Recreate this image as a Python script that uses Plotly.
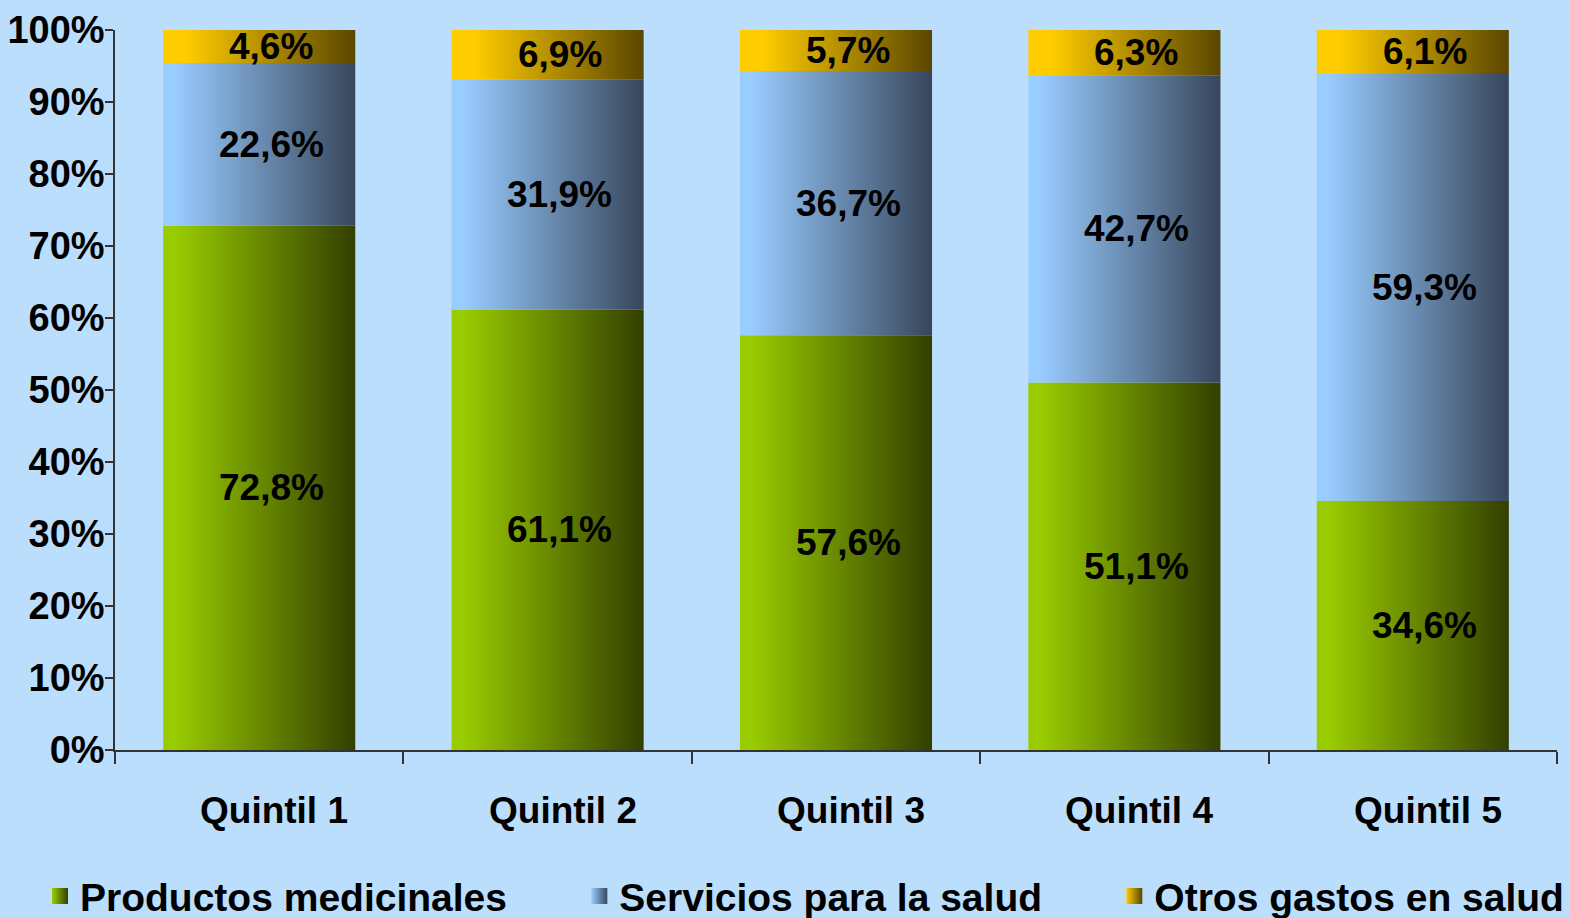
import plotly.graph_objects as go

categories = ["Quintil 1", "Quintil 2", "Quintil 3", "Quintil 4", "Quintil 5"]
series_names = ["Productos medicinales", "Servicios para la salud", "Otros gastos en salud"]
productos = [72.8, 61.1, 57.6, 51.1, 34.6]
servicios = [22.6, 31.9, 36.7, 42.7, 59.3]
otros = [4.6, 6.9, 5.7, 6.3, 6.1]
y_ticks = [0, 10, 20, 30, 40, 50, 60, 70, 80, 90, 100]

light = ["#99CC00", "#99CCFF", "#FFCC00"]
dark = ["#333F00", "#37465C", "#5A4600"]
flat = [0.06, 0.06, 0.12]

FONT = "Liberation Sans"
BAR_HALF = 0.333

fig = go.Figure()
series = [productos, servicios, otros]
n = len(categories)
totals = [sum(s[i] for s in series) for i in range(n)]

for i in range(n):
    base = 0.0
    for k, s in enumerate(series):
        h = s[i] / totals[i] * 100
        x0, x1 = i - BAR_HALF, i + BAR_HALF
        fig.add_trace(go.Scatter(
            x=[x0, x1, x1, x0, x0],
            y=[base, base, base + h, base + h, base],
            mode="none", fill="toself",
            fillgradient=dict(type="horizontal",
                              colorscale=[[0, light[k]], [flat[k], light[k]], [1, dark[k]]],
                              start=x0, stop=x1),
            showlegend=False, hoverinfo="skip",
        ))
        fig.add_annotation(
            x=i, y=base + h / 2, xref="x", yref="y",
            text=f"{s[i]:.1f}%".replace(".", ","), showarrow=False, xshift=12,
            font=dict(family=FONT, size=37, color="black", weight="bold"),
        )
        base += h

for i, cat in enumerate(categories):
    fig.add_annotation(
        x=i, y=-60 / 720, xref="x", yref="paper", text=cat, showarrow=False,
        xshift=15, yanchor="middle",
        font=dict(family=FONT, size=37, color="black", weight="bold"),
    )

# legend-only entries
legend_ids = ["legend", "legend2", "legend3"]
for k, name in enumerate(series_names):
    fig.add_trace(go.Scatter(
        x=[None], y=[None], mode="markers", name=name, legend=legend_ids[k],
        marker=dict(symbol="square", size=20, color=light[k],
                    gradient=dict(type="horizontal", color=dark[k])),
        showlegend=True, hoverinfo="skip",
    ))

legend_common = dict(
    orientation="h", y=-0.203, yanchor="middle", xanchor="left",
    font=dict(family=FONT, size=39, color="black", weight="bold"),
    itemwidth=30, bgcolor="rgba(0,0,0,0)",
)

fig.update_layout(
    width=1570, height=918,
    paper_bgcolor="#BBDEFD", plot_bgcolor="#BBDEFD",
    margin=dict(l=115, r=13, t=30, b=168, autoexpand=False),
    font=dict(family=FONT, color="black"),
    showlegend=True,
    legend=dict(x=-0.052, **legend_common),
    legend2=dict(x=0.322, **legend_common),
    legend3=dict(x=0.693, **legend_common),
    xaxis=dict(
        range=[-0.5, n - 0.5], tickvals=list(range(n)), showticklabels=False,
        ticks="", showgrid=False, zeroline=False, automargin=False,
        showline=True, linecolor="#333333", linewidth=1.5,
        minor=dict(tickvals=[i - 0.5 for i in range(n + 1)], ticks="outside",
                   ticklen=12, tickcolor="#333333", tickwidth=1.5, showgrid=False),
    ),
    yaxis=dict(
        range=[0, 100], tickvals=y_ticks, ticktext=[f"{v}%" for v in y_ticks],
        ticks="outside", ticklen=8, tickcolor="#333333", tickwidth=1.5,
        showgrid=False, zeroline=False, automargin=False,
        showline=True, linecolor="#333333", linewidth=1.5,
        tickfont=dict(family=FONT, size=38, color="black", weight="bold"),
        ticklabelstandoff=-7,
    ),
)

fig.write_html(
    "out.html",
    config={"displayModeBar": False},
    post_script="document.body.style.margin='0';document.body.style.overflow='hidden';",
)
